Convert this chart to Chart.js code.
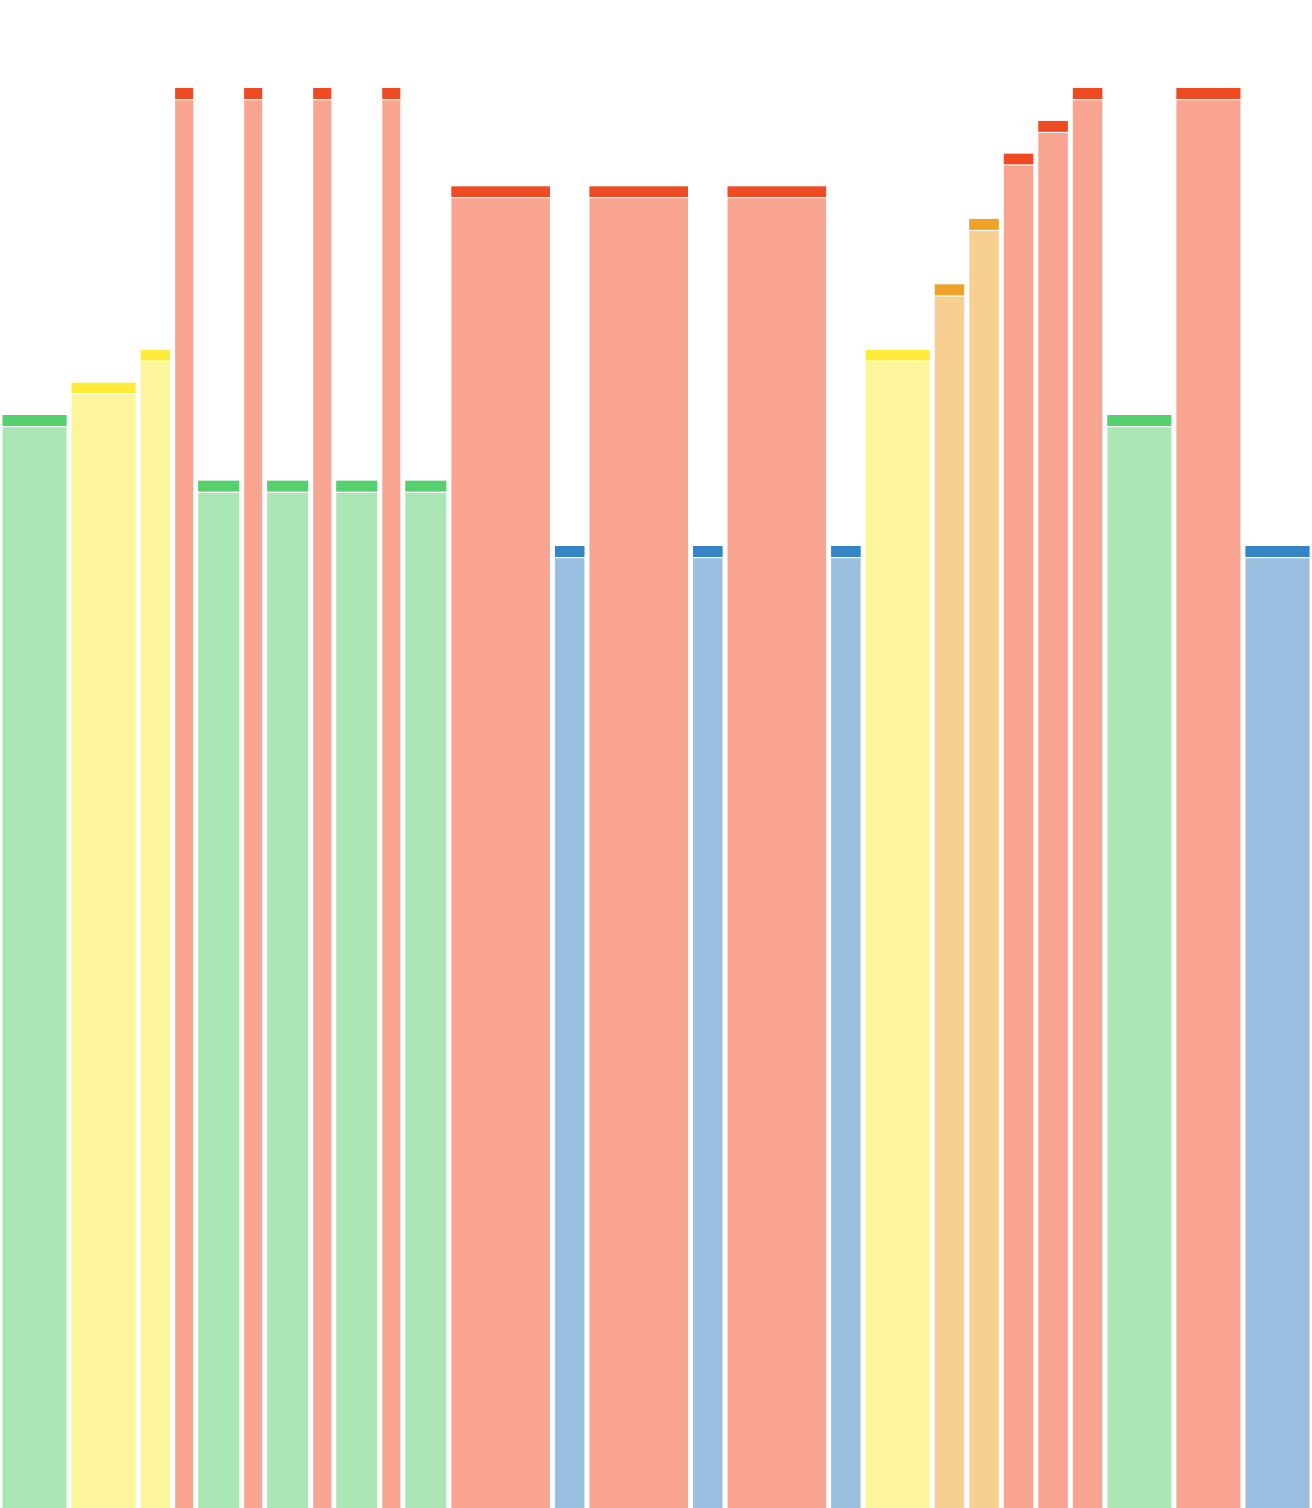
<!DOCTYPE html>
<html>
<head>
<meta charset="utf-8">
<script src="https://cdn.jsdelivr.net/npm/chart.js@4.4.1/dist/chart.umd.min.js"></script>
<style>
  html, body { margin: 0; padding: 0; background: #ffffff; }
  canvas { display: block; }
</style>
</head>
<body>
<canvas id="melodyChart" width="1312" height="1508"></canvas>
<script>
// one entry per note: pitch (semitone number) and length (in half-beat units)
const pitches   = [64, 65, 66, 74, 62, 74, 62, 74, 62, 74, 62, 71, 60, 71, 60, 71, 60, 66, 68, 70, 72, 73, 74, 64, 74, 60];
const durations = [ 6,  6,  3,  2,  4,  2,  4,  2,  4,  2,  4,  9,  3,  9,  3,  9,  3,  6,  3,  3,  3,  3,  3,  6,  6,  6];
const labels    = pitches.map((p, i) => 'note ' + (i + 1));

// axis range
const Y_MIN = 30.59;
const Y_MAX = 76.69;
const CAP = 0.38;  // height of the darker cap on each bar

// start of each note along the time axis
const starts = [];
durations.reduce((acc, d) => { starts.push(acc); return acc + d; }, 0);
const totalLength = durations.reduce((a, b) => a + b, 0);

// colour bands by pitch
function band(p) {
  if (p <= 60) return { cap: '#3584c6', fill: '#9bbfe0' };  // blue
  if (p <= 64) return { cap: '#55d06e', fill: '#abe7b4' };  // green
  if (p <= 66) return { cap: '#feec3b', fill: '#fdf59c' };  // yellow
  if (p <= 70) return { cap: '#f0a228', fill: '#f7d091' };  // orange
  return { cap: '#f04a22', fill: '#f8a490' };               // red
}

/**
 * Stretch each bar across its note length using the hidden time scale
 */
const variableWidth = {
  id: 'variableWidth',
  afterDatasetsUpdate(chart) {
    const xw = chart.scales.time;
    chart.data.datasets.forEach((ds, di) => {
      const meta = chart.getDatasetMeta(di);
      meta.data.forEach((bar, i) => {
        const left = xw.getPixelForValue(starts[i]);
        const right = xw.getPixelForValue(starts[i] + durations[i]);
        bar.x = (left + right) / 2;
        bar.width = right - left;
      });
    });
  }
};

const ctx = document.getElementById('melodyChart').getContext('2d');

new Chart(ctx, {
  type: 'bar',
  data: {
    labels: labels,
    datasets: [
      {
        label: 'cap',
        data: pitches.map(p => [p - CAP, p]),
        backgroundColor: pitches.map(p => band(p).cap),
        borderColor: '#ffffff',
        borderWidth: { top: 0, right: 2.5, bottom: 1.5, left: 2.5 },
        borderSkipped: false,
        grouped: false,
        order: 0
      },
      {
        label: 'pitch',
        data: pitches,
        backgroundColor: pitches.map(p => band(p).fill),
        borderColor: '#ffffff',
        borderWidth: { top: 0, right: 2.5, bottom: 0, left: 2.5 },
        borderSkipped: false,
        grouped: false,
        order: 1
      }
    ]
  },
  plugins: [variableWidth],
  options: {
    responsive: false,
    animation: false,
    layout: { padding: 0 },
    plugins: {
      legend: { display: false },
      tooltip: { enabled: false }
    },
    scales: {
      x: { display: false },
      time: {
        type: 'linear',
        axis: 'x',
        position: 'bottom',
        display: false,
        offset: false,
        grid: { offset: false },
        min: 0,
        max: totalLength
      },
      y: {
        display: false,
        min: Y_MIN,
        max: Y_MAX
      }
    }
  }
});
</script>
</body>
</html>
